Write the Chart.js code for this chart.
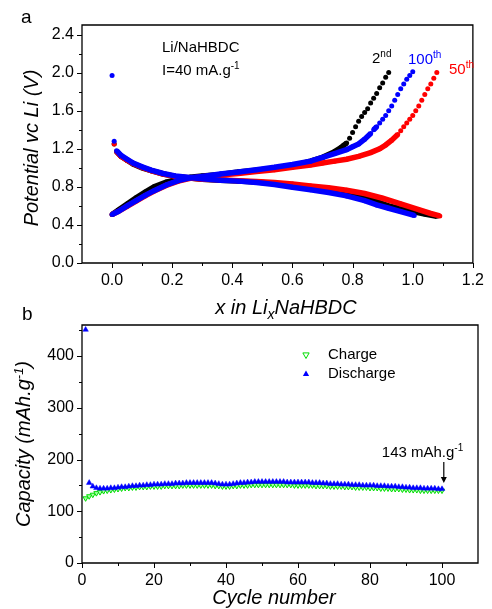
<!DOCTYPE html>
<html>
<head>
<meta charset="utf-8">
<script src="https://cdn.jsdelivr.net/npm/chart.js@4.4.1/dist/chart.umd.min.js"></script>
<style>
  body { margin: 0; background: #fff; }
  #wrap { position: relative; width: 492px; height: 609px; }
  canvas { position: absolute; left: 0; }
  #topChart { top: 0; }
  #bottomChart { top: 290px; }
</style>
</head>
<body>
<div id="wrap">
  <canvas id="topChart" width="492" height="320"></canvas>
  <canvas id="bottomChart" width="492" height="319"></canvas>
</div>
<script>
// ---- panel a : potential vs x in LixNaHBDC ----
// charge branches (start at 0.5 V, rising to 2 V)
const charge2X = [0, 0.02, 0.05, 0.08, 0.11, 0.14, 0.18, 0.22, 0.26, 0.30, 0.36, 0.42, 0.48, 0.54, 0.60, 0.66, 0.70, 0.74, 0.76, 0.77, 0.78, 0.79, 0.80, 0.81, 0.82, 0.83, 0.84, 0.85, 0.86, 0.87, 0.88, 0.89, 0.90, 0.91, 0.92];
const charge2V = [0.51, 0.555, 0.62, 0.685, 0.745, 0.80, 0.85, 0.88, 0.90, 0.915, 0.93, 0.955, 0.975, 0.995, 1.02, 1.07, 1.11, 1.17, 1.21, 1.235, 1.26, 1.31, 1.37, 1.43, 1.49, 1.54, 1.58, 1.62, 1.68, 1.73, 1.78, 1.84, 1.89, 1.95, 2.00];
const charge50X = [0, 0.02, 0.05, 0.08, 0.11, 0.14, 0.18, 0.22, 0.26, 0.30, 0.36, 0.42, 0.48, 0.54, 0.60, 0.66, 0.70, 0.74, 0.78, 0.82, 0.86, 0.89, 0.91, 0.93, 0.95, 0.96, 0.97, 0.98, 0.99, 1.00, 1.01, 1.02, 1.03, 1.04, 1.05, 1.06, 1.07, 1.08];
const charge50V = [0.51, 0.54, 0.595, 0.65, 0.705, 0.755, 0.815, 0.86, 0.89, 0.905, 0.925, 0.94, 0.96, 0.98, 1.005, 1.03, 1.05, 1.07, 1.09, 1.12, 1.16, 1.20, 1.24, 1.29, 1.35, 1.39, 1.43, 1.47, 1.51, 1.55, 1.60, 1.65, 1.71, 1.77, 1.83, 1.88, 1.94, 2.00];
const charge100X = [0, 0.02, 0.05, 0.08, 0.11, 0.14, 0.18, 0.22, 0.26, 0.30, 0.36, 0.42, 0.48, 0.54, 0.60, 0.66, 0.70, 0.74, 0.78, 0.80, 0.82, 0.84, 0.86, 0.87, 0.88, 0.89, 0.90, 0.91, 0.92, 0.93, 0.94, 0.95, 0.96, 0.97, 0.98, 0.99, 1.00];
const charge100V = [0.51, 0.54, 0.60, 0.655, 0.71, 0.76, 0.82, 0.865, 0.895, 0.91, 0.935, 0.955, 0.98, 1.005, 1.035, 1.07, 1.11, 1.15, 1.19, 1.22, 1.25, 1.30, 1.36, 1.40, 1.43, 1.47, 1.51, 1.55, 1.60, 1.65, 1.71, 1.77, 1.83, 1.88, 1.93, 1.97, 2.01];
// discharge branches (start high, fall to 0.5 V)
const dis2X = [0.007, 0.015, 0.03, 0.05, 0.07, 0.10, 0.13, 0.17, 0.21, 0.25, 0.30, 0.36, 0.42, 0.48, 0.54, 0.60, 0.66, 0.72, 0.78, 0.84, 0.88, 0.92, 0.96, 1.00, 1.04, 1.08];
const dis2V = [1.25, 1.17, 1.12, 1.08, 1.04, 1.00, 0.97, 0.935, 0.91, 0.895, 0.88, 0.87, 0.86, 0.85, 0.835, 0.815, 0.79, 0.765, 0.74, 0.685, 0.645, 0.60, 0.57, 0.54, 0.515, 0.49];
const dis50X = [0.007, 0.015, 0.03, 0.05, 0.07, 0.10, 0.13, 0.17, 0.21, 0.25, 0.30, 0.36, 0.42, 0.48, 0.54, 0.60, 0.66, 0.72, 0.78, 0.84, 0.90, 0.96, 1.02, 1.06, 1.09];
const dis50V = [1.25, 1.17, 1.12, 1.08, 1.045, 1.005, 0.97, 0.935, 0.91, 0.895, 0.88, 0.875, 0.865, 0.855, 0.845, 0.83, 0.81, 0.79, 0.765, 0.73, 0.68, 0.62, 0.56, 0.52, 0.495];
const dis100X = [0, 0.007, 0.015, 0.03, 0.05, 0.07, 0.10, 0.13, 0.17, 0.21, 0.25, 0.30, 0.36, 0.42, 0.48, 0.54, 0.60, 0.66, 0.72, 0.78, 0.84, 0.88, 0.92, 0.96, 1.005];
const dis100V = [1.97, 1.28, 1.18, 1.13, 1.09, 1.05, 1.01, 0.975, 0.94, 0.915, 0.90, 0.885, 0.87, 0.86, 0.845, 0.825, 0.795, 0.77, 0.74, 0.705, 0.655, 0.61, 0.575, 0.54, 0.50];

const potXMajor = [0, 0.2, 0.4, 0.6, 0.8, 1.0, 1.2];
const potXMinor = [0.1, 0.3, 0.5, 0.7, 0.9, 1.1];
const potYMajor = [0, 0.4, 0.8, 1.2, 1.6, 2.0, 2.4];
const potYMinor = [0.2, 0.6, 1.0, 1.4, 1.8, 2.2];

// ---- panel b : capacity vs cycle number (cycles 1..100) ----
const chargeCap = [125, 129, 132, 135, 137, 139, 140, 141, 142, 143,
  144, 145, 145, 146, 146, 147, 147, 147, 148, 148,
  148, 148, 149, 149, 149, 149, 149, 150, 150, 150,
  150, 150, 150, 150, 150, 150, 149, 149, 148, 148,
  148, 149, 149, 150, 150, 150, 151, 151, 151, 151,
  151, 151, 151, 151, 151, 151, 151, 151, 150, 150,
  150, 150, 150, 150, 149, 149, 149, 149, 148, 148,
  148, 148, 147, 147, 147, 146, 146, 146, 146, 145,
  145, 145, 144, 144, 144, 143, 143, 143, 142, 142,
  141, 141, 141, 140, 140, 140, 140, 140, 140, 140];
const dischargeCap = [451, 155, 148, 145, 144, 144, 144, 145, 145, 146,
  147, 147, 148, 149, 149, 150, 150, 151, 151, 152,
  152, 152, 153, 153, 153, 154, 154, 154, 155, 155,
  155, 155, 155, 155, 155, 155, 154, 153, 152, 152,
  152, 153, 154, 155, 155, 156, 156, 157, 157, 157,
  157, 157, 157, 157, 157, 157, 156, 156, 156, 156,
  156, 156, 156, 155, 155, 155, 154, 154, 153, 153,
  153, 152, 152, 152, 151, 151, 151, 150, 150, 150,
  150, 149, 149, 149, 148, 148, 148, 147, 147, 146,
  146, 145, 145, 145, 144, 144, 144, 144, 143, 143];

const capXMajor = [0, 20, 40, 60, 80, 100];
const capXMinor = [10, 30, 50, 70, 90];
const capYMajor = [0, 100, 200, 300, 400];
const capYMinor = [50, 150, 250, 350, 450];

const FONT = "'Liberation Sans', Arial, Helvetica, sans-serif";

function pts(xs, ys) {
  return xs.map((x, i) => ({ x: x, y: ys[i] }));
}

// draw a run of text pieces: [text, size, dy, style]
function runs(ctx, parts, x, y, align) {
  let w = 0;
  parts.forEach(p => {
    ctx.font = (p[3] || '') + ' ' + p[1] + 'px ' + FONT;
    w += ctx.measureText(p[0]).width;
  });
  let cx = align === 'center' ? x - w / 2 : (align === 'right' ? x - w : x);
  ctx.textAlign = 'left';
  ctx.textBaseline = 'alphabetic';
  parts.forEach(p => {
    ctx.font = (p[3] || '') + ' ' + p[1] + 'px ' + FONT;
    ctx.fillText(p[0], cx, y + p[2]);
    cx += ctx.measureText(p[0]).width;
  });
}

// box around the plot + outward tick marks
function frameAndTicks(chart, xMaj, xMin, yMaj, yMin) {
  const ctx = chart.ctx, a = chart.chartArea;
  const xs = chart.scales.x, ys = chart.scales.y;
  ctx.save();
  ctx.setLineDash([]);   // segment styling leaves a dash behind otherwise
  ctx.globalAlpha = 1;
  ctx.strokeStyle = '#000000';
  ctx.lineWidth = 1.3;
  ctx.beginPath();
  ctx.rect(a.left, a.top, a.right - a.left, a.bottom - a.top);
  ctx.stroke();
  ctx.lineWidth = 1;
  ctx.beginPath();
  xMaj.forEach(v => { const p = Math.round(xs.getPixelForValue(v)) + 0.5; ctx.moveTo(p, a.bottom); ctx.lineTo(p, a.bottom + 5); });
  xMin.forEach(v => { const p = Math.round(xs.getPixelForValue(v)) + 0.5; ctx.moveTo(p, a.bottom); ctx.lineTo(p, a.bottom + 3); });
  yMaj.forEach(v => { const p = Math.round(ys.getPixelForValue(v)) + 0.5; ctx.moveTo(a.left, p); ctx.lineTo(a.left - 5, p); });
  yMin.forEach(v => { const p = Math.round(ys.getPixelForValue(v)) + 0.5; ctx.moveTo(a.left, p); ctx.lineTo(a.left - 3, p); });
  ctx.stroke();
  ctx.restore();
}

const steep = c => Math.abs(c.p1.y - c.p0.y) > 1.15 * Math.abs(c.p1.x - c.p0.x);

function curve(data, color) {
  return {
    data: data,
    showLine: true,
    borderColor: color,
    backgroundColor: color,
    borderWidth: 5.5,
    pointRadius: 2.5,
    pointBorderWidth: 0,
    pointHoverRadius: 2.5,
    segment: { borderColor: c => steep(c) ? 'rgba(0,0,0,0)' : color }
  };
}

function axis(min, max, ticksArr, fmt) {
  return {
    type: 'linear', min: min, max: max,
    grid: { display: false, drawTicks: false, tickLength: 0 },
    border: { display: false },
    afterBuildTicks: s => { s.ticks = ticksArr.map(v => ({ value: v })); },
    ticks: { font: { family: FONT, size: 16 }, color: '#000', autoSkip: false, maxRotation: 0, callback: fmt }
  };
}

// ---------- top chart ----------
const topX = axis(-0.1, 1.2, potXMajor, v => v.toFixed(1));
topX.afterFit = s => { s.height = 57; };
topX.ticks.padding = 8;
const topY = axis(0, 2.5, potYMajor, v => v.toFixed(1));
topY.afterFit = s => { s.width = 82; };
topY.ticks.padding = 8;

const topDeco = {
  id: 'topDeco',
  afterDraw(chart) {
    const ctx = chart.ctx, a = chart.chartArea;
    frameAndTicks(chart, potXMajor, potXMinor, potYMajor, potYMinor);
    ctx.save();
    ctx.fillStyle = '#000';
    runs(ctx, [['a', 19, 0, '']], 21, 23, 'left');
    runs(ctx, [['Li/NaHBDC', 15, 0, '']], 162, 52, 'left');
    runs(ctx, [['I=40 mA.g', 15, 0, ''], ['-1', 10, -6, '']], 162, 75, 'left');
    runs(ctx, [['2', 15, 0, ''], ['nd', 10, -6, '']], 372, 63, 'left');
    ctx.fillStyle = '#0000ff';
    runs(ctx, [['100', 15, 0, ''], ['th', 10, -6, '']], 408, 64, 'left');
    ctx.fillStyle = '#ff0000';
    runs(ctx, [['50', 15, 0, ''], ['th', 10, -6, '']], 449, 74, 'left');
    ctx.fillStyle = '#000';
    runs(ctx, [['x in Li', 20, 0, 'italic'], ['x', 14, 5, 'italic'], ['NaHBDC', 20, 0, 'italic']], 286, 314, 'center');
    ctx.translate(38, (a.top + a.bottom) / 2 + 4);
    ctx.rotate(-Math.PI / 2);
    runs(ctx, [['Potential vc Li (V)', 20, 0, 'italic']], 0, 0, 'center');
    ctx.restore();
  }
};

new Chart(document.getElementById('topChart'), {
  type: 'scatter',
  data: {
    datasets: [
      curve(pts(charge100X, charge100V), '#0000ff'),
      curve(pts(dis100X, dis100V), '#0000ff'),
      curve(pts(charge50X, charge50V), '#ff0000'),
      curve(pts(dis50X, dis50V), '#ff0000'),
      curve(pts(charge2X, charge2V), '#000000'),
      curve(pts(dis2X, dis2V), '#000000')
    ]
  },
  options: {
    responsive: false,
    animation: false,
    devicePixelRatio: 1,
    layout: { padding: { top: 25, right: 14, left: 0, bottom: 0 } },
    plugins: { legend: { display: false }, tooltip: { enabled: false } },
    scales: { x: topX, y: topY }
  },
  plugins: [topDeco]
});

// ---------- bottom chart ----------
const botX = axis(0, 110, capXMajor, v => String(v));
botX.afterFit = s => { s.height = 46; };
botX.ticks.padding = 8;
const botY = axis(0, 460, capYMajor, v => String(v));
botY.afterFit = s => { s.width = 82; };
botY.ticks.padding = 8;

function tri(ctx, x, y, r, down) {
  const s = down ? -1 : 1;
  ctx.beginPath();
  ctx.moveTo(x, y - s * r);
  ctx.lineTo(x - r * 0.9, y + s * r * 0.6);
  ctx.lineTo(x + r * 0.9, y + s * r * 0.6);
  ctx.closePath();
}

const botDeco = {
  id: 'botDeco',
  afterDraw(chart) {
    const ctx = chart.ctx, a = chart.chartArea;
    const xs = chart.scales.x, ys = chart.scales.y;
    frameAndTicks(chart, capXMajor, capXMinor, capYMajor, capYMinor);
    ctx.save();
    ctx.fillStyle = '#000';
    runs(ctx, [['b', 19, 0, '']], 22, 30, 'left');
    // legend
    ctx.strokeStyle = '#00dd00';
    ctx.fillStyle = '#ffffff';
    ctx.lineWidth = 1;
    tri(ctx, 306, 65, 3.5, true);
    ctx.fill(); ctx.stroke();
    ctx.fillStyle = '#0000ff';
    tri(ctx, 306, 84, 3.5, false);
    ctx.fill();
    ctx.fillStyle = '#000';
    ctx.textBaseline = 'middle';
    ctx.font = '15px ' + FONT;
    ctx.textAlign = 'left';
    ctx.fillText('Charge', 328, 65);
    ctx.fillText('Discharge', 328, 84);
    // annotation for the last cycle
    const ax = xs.getPixelForValue(100.5);
    const ay = ys.getPixelForValue(dischargeCap[dischargeCap.length - 1]);
    runs(ctx, [['143 mAh.g', 15, 0, ''], ['-1', 10, -6, '']], ax - 62, ay - 32, 'left');
    ctx.strokeStyle = '#000';
    ctx.lineWidth = 1.2;
    ctx.beginPath();
    ctx.moveTo(ax, ay - 27);
    ctx.lineTo(ax, ay - 8);
    ctx.stroke();
    ctx.beginPath();
    ctx.moveTo(ax - 3, ay - 12);
    ctx.lineTo(ax + 3, ay - 12);
    ctx.lineTo(ax, ay - 6);
    ctx.closePath();
    ctx.fill();
    // axis titles
    runs(ctx, [['Cycle number', 20, 0, 'italic']], 274, 314, 'center');
    ctx.translate(30, (a.top + a.bottom) / 2);
    ctx.rotate(-Math.PI / 2);
    runs(ctx, [['Capacity (mAh.g', 20, 0, 'italic'], ['-1', 13, -7, 'italic'], [')', 20, 0, 'italic']], 0, 0, 'center');
    ctx.restore();
  }
};

new Chart(document.getElementById('bottomChart'), {
  type: 'scatter',
  data: {
    datasets: [
      {
        label: 'Discharge',
        data: dischargeCap.map((v, i) => ({ x: i + 1, y: v })),
        pointStyle: 'triangle',
        pointRadius: 3.2,
        pointBorderWidth: 0.5,
        borderColor: '#0000ff',
        backgroundColor: '#0000ff'
      },
      {
        label: 'Charge',
        data: chargeCap.map((v, i) => ({ x: i + 1, y: v })),
        pointStyle: 'triangle',
        rotation: 180,
        pointRadius: 3,
        pointBorderWidth: 1,
        borderColor: '#00dd00',
        backgroundColor: '#aaffaa'
      }
    ]
  },
  options: {
    responsive: false,
    animation: false,
    devicePixelRatio: 1,
    layout: { padding: { top: 35, right: 14, left: 0, bottom: 0 } },
    plugins: { legend: { display: false }, tooltip: { enabled: false } },
    scales: { x: botX, y: botY }
  },
  plugins: [botDeco]
});
</script>
</body>
</html>
